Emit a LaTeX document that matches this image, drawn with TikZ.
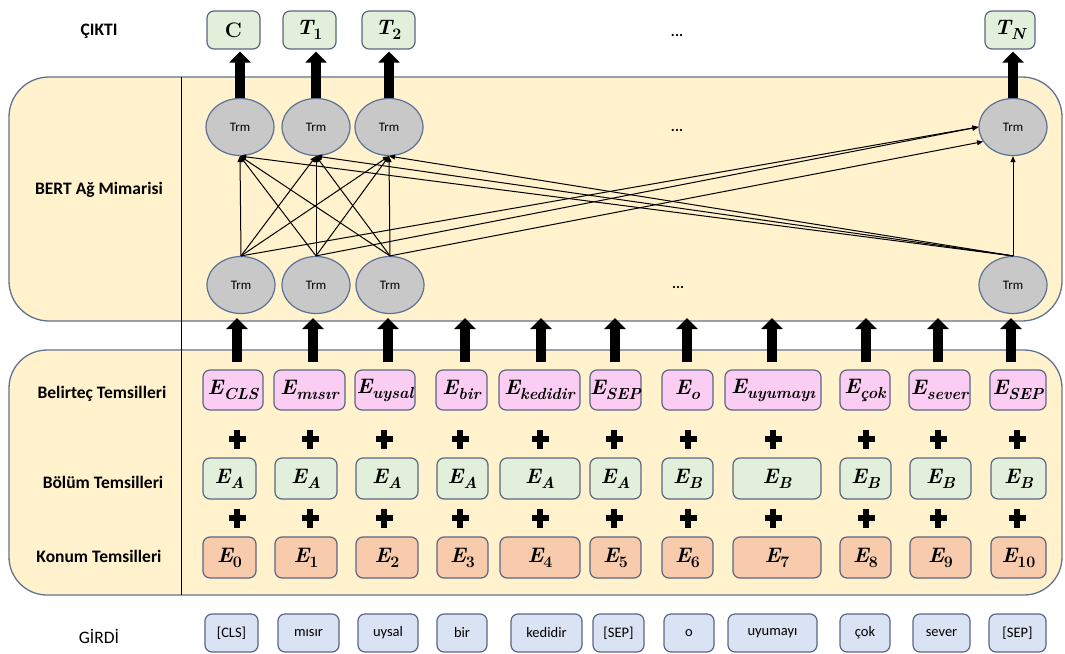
\documentclass[tikz,border=0pt]{standalone}
\usepackage{fontspec}
\newfontfamily\carl{Carlito}
\usetikzlibrary{arrows.meta,shapes.geometric}
\definecolor{panelfill}{HTML}{FFF2CC}
\definecolor{panelline}{HTML}{62728F}
\definecolor{boxline}{HTML}{5A6783}
\definecolor{pinkfill}{HTML}{FBCDF3}
\definecolor{greenfill}{HTML}{E2EFDA}
\definecolor{orangefill}{HTML}{F8CBAD}
\definecolor{bluefill}{HTML}{DAE3F3}
\definecolor{trmfill}{HTML}{C8C8C8}
\definecolor{trmline}{HTML}{5C7198}
% symbol with a lowered subscript, in the current (bold italic) font
\newcommand\Sb[2]{#1\raisebox{-5pt}{\fontsize{16}{16}\selectfont #2}}
\tikzset{
  panel/.style={draw=panelline, line width=1.3pt, fill=panelfill, rounded corners=40pt},
  ebox/.style={draw=boxline, line width=1.2pt, rounded corners=7pt, inner sep=0pt,
    minimum height=40pt, font=\fontsize{21}{24}\selectfont\bfseries\itshape},
  tokbox/.style={ebox, fill=pinkfill},
  segbox/.style={ebox, fill=greenfill, minimum height=41pt},
  posbox/.style={ebox, fill=orangefill, minimum height=41pt},
  outbox/.style={ebox, fill=greenfill, minimum height=38pt},
  inbox/.style={draw=boxline, line width=1.2pt, rounded corners=7pt, fill=bluefill,
    minimum height=38pt, inner sep=0pt, font=\carl\fontsize{14.5}{16}\selectfont},
  trm/.style={ellipse, draw=trmline, line width=1.2pt, fill=trmfill, minimum width=68pt,
    minimum height=57pt, inner sep=0pt, font=\carl\fontsize{13}{14}\selectfont},
  sidelabel/.style={font=\carl\bfseries\fontsize{17.5}{20}\selectfont},
  dots/.style={font=\carl\bfseries\fontsize{15}{16}\selectfont},
  fat/.style={line width=10pt, -{Triangle[length=11pt,width=21pt]}},
  link/.style={line width=1pt, -{Triangle[length=6pt,width=5pt]}},
  plussign/.pic={\fill (-8.5,-2.8) rectangle (8.5,2.8); \fill (-2.8,-9.5) rectangle (2.8,9.5);}
}
\begin{document}
\begin{tikzpicture}[x=1pt,y=-1pt]
\useasboundingbox (0,0) rectangle (1065,653);

% the two panels and the column separator
\draw[panel] (9,77) rectangle (1062,321);
\draw[panel, rounded corners=38pt] (9,350) rectangle (1062,595);
\draw[line width=1pt] (181.5,77) -- (181.5,595);

% row labels
\node[sidelabel] (lblout) at (99,31) {ÇIKTI};
\node[sidelabel] (lblbert) at (99,190) {BERT Ağ Mimarisi};
\node[sidelabel] (lbltok) at (102,394) {Belirteç Temsilleri};
\node[sidelabel] (lblseg) at (103,482) {Bölüm Temsilleri};
\node[sidelabel] (lblpos) at (99,556) {Konum Temsilleri};
\node[font=\carl\fontsize{17.5}{20}\selectfont] (lblin) at (99,636) {GİRDİ};

% outputs
\node[outbox, minimum width=53pt] (oC) at (233.5,30) {\upshape C};
\node[outbox, minimum width=53pt] (o1) at (309.5,30) {\Sb{T}{\upshape 1}};
\node[outbox, minimum width=53pt] (o2) at (388.5,30) {\Sb{T}{\upshape 2}};
\node[outbox, minimum width=50pt] (oN) at (1010,30) {\Sb{T}{N}};
\node[dots] (d0) at (677,35) {...};

% transformer layers
\node[trm] (u1) at (240,127) {Trm};
\node[trm] (u2) at (316,127) {Trm};
\node[trm] (u3) at (389,127) {Trm};
\node[trm] (uN) at (1013,127) {Trm};
\node[trm] (l1) at (241,285) {Trm};
\node[trm] (l2) at (316,285) {Trm};
\node[trm] (l3) at (390,285) {Trm};
\node[trm] (lN) at (1013,285) {Trm};
\node[dots] (d1) at (677,130) {...};
\node[dots] (d2) at (678,287) {...};

% token embeddings
\node[tokbox, minimum width=60pt] (t0) at (233,390) {\Sb{E}{CLS}};
\node[tokbox, minimum width=71pt] (t1) at (309.5,390) {\Sb{E}{mısır}};
\node[tokbox, minimum width=60pt] (t2) at (385,390) {\Sb{E}{uysal}};
\node[tokbox, minimum width=51pt] (t3) at (461.5,390) {\Sb{E}{bir}};
\node[tokbox, minimum width=81pt] (t4) at (539.5,390) {\Sb{E}{kedidir}};
\node[tokbox, minimum width=51pt] (t5) at (615.5,390) {\Sb{E}{SEP}};
\node[tokbox, minimum width=51pt] (t6) at (687.5,390) {\Sb{E}{o}};
\node[tokbox, minimum width=96pt] (t7) at (773,390) {\Sb{E}{uyumayı}};
\node[tokbox, minimum width=50pt] (t8) at (865,390) {\Sb{E}{çok}};
\node[tokbox, minimum width=61pt] (t9) at (939.5,390) {\Sb{E}{sever}};
\node[tokbox, minimum width=56pt] (t10) at (1018,390) {\Sb{E}{SEP}};

% segment embeddings
\node[segbox, minimum width=53pt] (s0) at (229.5,478.5) {\Sb{E}{A}};
\node[segbox, minimum width=62pt] (s1) at (306,478.5) {\Sb{E}{A}};
\node[segbox, minimum width=62pt] (s2) at (387,478.5) {\Sb{E}{A}};
\node[segbox, minimum width=51pt] (s3) at (462.5,478.5) {\Sb{E}{A}};
\node[segbox, minimum width=80pt] (s4) at (540,478.5) {\Sb{E}{A}};
\node[segbox, minimum width=51pt] (s5) at (615.5,478.5) {\Sb{E}{A}};
\node[segbox, minimum width=51pt] (s6) at (687.5,478.5) {\Sb{E}{B}};
\node[segbox, minimum width=88pt] (s7) at (777,478.5) {\Sb{E}{B}};
\node[segbox, minimum width=51pt] (s8) at (865.5,478.5) {\Sb{E}{B}};
\node[segbox, minimum width=61pt] (s9) at (940.5,478.5) {\Sb{E}{B}};
\node[segbox, minimum width=55pt] (s10) at (1018.5,478.5) {\Sb{E}{B}};

% position embeddings
\node[posbox, minimum width=53pt] (p0) at (229.5,557.5) {\Sb{E}{\upshape 0}};
\node[posbox, minimum width=62pt] (p1) at (306,557.5) {\Sb{E}{\upshape 1}};
\node[posbox, minimum width=62pt] (p2) at (387,557.5) {\Sb{E}{\upshape 2}};
\node[posbox, minimum width=51pt] (p3) at (462.5,557.5) {\Sb{E}{\upshape 3}};
\node[posbox, minimum width=80pt] (p4) at (540,557.5) {\Sb{E}{\upshape 4}};
\node[posbox, minimum width=51pt] (p5) at (615.5,557.5) {\Sb{E}{\upshape 5}};
\node[posbox, minimum width=51pt] (p6) at (687.5,557.5) {\Sb{E}{\upshape 6}};
\node[posbox, minimum width=88pt] (p7) at (777,557.5) {\Sb{E}{\upshape 7}};
\node[posbox, minimum width=51pt] (p8) at (865.5,557.5) {\Sb{E}{\upshape 8}};
\node[posbox, minimum width=61pt] (p9) at (940.5,557.5) {\Sb{E}{\upshape 9}};
\node[posbox, minimum width=55pt] (p10) at (1018.5,557.5) {\Sb{E}{\upshape 10}};

% input tokens
\node[inbox, minimum width=53pt] (g0) at (231.5,633) {[CLS]};
\node[inbox, minimum width=61pt] (g1) at (308.5,633) {mısır};
\node[inbox, minimum width=60pt] (g2) at (388,633) {uysal};
\node[inbox, minimum width=50pt] (g3) at (462,633) {bir};
\node[inbox, minimum width=71pt] (g4) at (546.5,633) {kedidir};
\node[inbox, minimum width=51pt] (g5) at (618.5,633) {[SEP]};
\node[inbox, minimum width=50pt] (g6) at (689,633) {o};
\node[inbox, minimum width=89pt] (g7) at (772.5,633) {uyumayı};
\node[inbox, minimum width=50pt] (g8) at (865,633) {çok};
\node[inbox, minimum width=57pt] (g9) at (941.5,633) {sever};
\node[inbox, minimum width=57pt] (g10) at (1017.5,633) {[SEP]};

% plus signs between the embedding rows
\foreach \x in {237,310,384,460,540,614,688,773,866,938,1017} {
  \pic at (\x,439) {plussign};
  \pic at (\x,518) {plussign};
}

% embeddings feed the encoder
\coordinate (gap) at (0,318);
\foreach \i/\ax in {0/237,1/313,2/388,3/465,4/541,5/615,6/687,7/772,8/866,9/938,10/1011} {
  \draw[fat, shorten <=7pt] (\ax,0 |- t\i.north) -- (\ax,0 |- gap);
}

% encoder outputs
\draw[fat, shorten >=2pt] (u1.north) -- (u1.north |- oC.south);
\draw[fat, shorten >=2pt] (u2.north) -- (u2.north |- o1.south);
\draw[fat, shorten >=2pt] (u3.north) -- (u3.north |- o2.south);
\draw[fat, shorten >=2pt] (uN.north) -- (uN.north |- oN.south);

% full connections between the two layers
\foreach \s in {l1,l2,l3,lN} {
  \foreach \t in {u1,u2,u3} {
    \draw[link] (\s.north) -- (\t.south);
  }
}
\draw[link] (l1.north) -- (uN.west);
\draw[link] (l2.north) -- (uN.west);
\draw[link] (l3.north) -- (uN.206);
\draw[link] (lN.north) -- (uN.south);
\end{tikzpicture}
\end{document}
